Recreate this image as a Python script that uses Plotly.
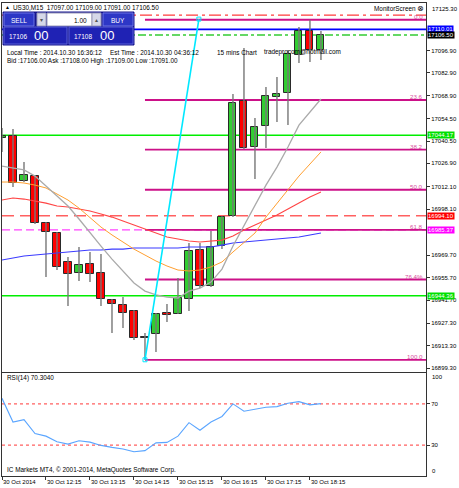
import plotly.graph_objects as go

W, H = 459, 488

# ---------------- data ----------------
times = ["11:15", "11:30", "11:45", "12:00", "12:15", "12:30", "12:45", "13:00", "13:15", "13:30",
         "13:45", "14:00", "14:15", "14:30", "14:45", "15:00", "15:15", "15:30", "15:45", "16:00",
         "16:15", "16:30", "16:45", "17:00", "17:15", "17:30", "17:45", "18:00", "18:15", "18:30"]

opens = [17042.5, 17043.7, 17015.7, 17018.8, 16989.6, 16983.4, 16965.4, 16958.5, 16964.1, 16958.5,
         16941.7, 16938.6, 16934.9, 16918.7, 16920.6, 16933.7, 16933.0, 16942.4, 16972.8, 16950.4,
         16975.3, 16993.9, 17065.5, 17036.9, 17049.9, 17067.9, 17070.4, 17094.1, 17109.0, 17097.0]
highs = [17048.7, 17048.0, 17027.5, 17019.5, 16990.2, 16984.0, 16968.5, 16974.7, 16971.6, 16970.3,
         16942.4, 16943.6, 16935.5, 16921.2, 16933.7, 16939.2, 16955.4, 16977.2, 16977.2, 16984.6,
         16993.9, 17069.8, 17098.4, 17054.9, 17074.2, 17080.4, 17097.2, 17111.5, 17116.0, 17109.0]
lows = [17033.8, 17012.0, 17015.1, 16989.0, 16956.0, 16960.4, 16938.0, 16953.5, 16952.9, 16938.0,
        16921.2, 16924.3, 16916.9, 16904.6, 16909.4, 16928.1, 16933.0, 16934.9, 16949.2, 16949.8,
        16973.4, 16993.3, 17035.6, 17017.0, 17036.2, 17052.4, 17050.5, 17089.1, 17089.7, 17091.0]
closes = [17043.5, 17014.5, 17019.5, 16989.6, 16984.0, 16962.3, 16957.9, 16963.5, 16957.9, 16942.4,
          16939.2, 16933.7, 16918.1, 16918.4, 16933.0, 16932.4, 16943.0, 16972.2, 16950.4, 16974.7,
          16993.3, 17064.2, 17036.2, 17049.3, 17068.6, 17069.8, 17094.7, 17109.0, 17097.2, 17106.5]

ma_gray = [17025.0, 17023.8, 17022.6, 17018.8, 17012.6, 17007.0, 17000.2, 16992.1, 16983.4, 16975.3,
           16967.2, 16959.8, 16952.3, 16947.3, 16944.9, 16943.6, 16943.0, 16947.3, 16949.2, 16952.9,
           16961.0, 16975.3, 16987.7, 17000.2, 17013.2, 17024.4, 17036.9, 17050.5, 17058.6, 17066.7]
ma_orange = [17015.1, 17015.1, 17014.5, 17013.2, 17011.4, 17007.6, 17003.9, 16998.9, 16992.7, 16987.1,
             16982.2, 16977.8, 16973.4, 16969.7, 16966.0, 16962.9, 16960.4, 16959.8, 16960.4, 16962.3,
             16965.4, 16971.6, 16977.2, 16983.4, 16993.3, 17002.0, 17010.1, 17018.8, 17026.3, 17033.8]
ma_red = [17003.9, 17005.2, 17004.5, 17003.3, 17002.0, 17000.2, 16999.6, 16998.3, 16997.1, 16995.2,
          16993.3, 16990.9, 16988.4, 16985.9, 16983.4, 16980.9, 16979.7, 16978.4, 16977.8, 16978.4,
          16979.0, 16981.5, 16985.3, 16988.4, 16991.5, 16994.6, 16998.3, 17002.0, 17005.8, 17008.9]
ma_blue = [16966.6, 16967.9, 16969.1, 16969.7, 16970.3, 16971.0, 16971.6, 16972.2, 16972.8, 16972.8,
           16973.4, 16973.4, 16974.1, 16974.1, 16974.1, 16974.1, 16974.1, 16974.7, 16974.7, 16974.7,
           16975.9, 16977.2, 16977.8, 16978.4, 16979.0, 16979.7, 16980.3, 16980.9, 16982.2, 16983.4]

rsi = [75.4, 52.4, 54.7, 41.2, 38.7, 33.2, 31.0, 34.2, 32.9, 29.7,
       27.8, 26.2, 23.6, 24.6, 32.2, 32.6, 38.7, 51.8, 44.4, 52.4,
       57.8, 70.0, 62.9, 64.6, 66.8, 67.4, 70.6, 72.2, 69.1, 70.3]

price_ticks = [17096.90, 17082.90, 17068.90, 17054.50, 17040.50, 17026.90, 17012.10,
               16998.10, 16969.70, 16955.70, 16941.70, 16927.30, 16913.30, 16899.30]
top_tick = 17125.30

x_tick_idx = [0, 4, 8, 12, 16, 20, 24, 28]
x_tick_text = ["30 Oct 2014", "30 Oct 12:15", "30 Oct 13:15", "30 Oct 14:15",
               "30 Oct 15:15", "30 Oct 16:15", "30 Oct 17:15", "30 Oct 18:15"]

fib_high, fib_low = 17116.0, 16904.6
fib_levels = [0.0, 23.6, 38.2, 50.0, 61.8, 76.4, 100.0]
fib_labels = ["0.0", "23.6", "38.2", "50.0", "61.8", "76.4%", "100.0"]
fib_start = 13
trend_x = [13, 17.9]
trend_y = [16904.6, 17116.4]

line_top_red = 17118.9
line_blue = 17110.01
line_bid = 17106.50
line_green_hi = 17044.17
line_green_lo = 16944.36
line_red_dash = 16994.10
line_magenta = 16985.37

# ---------------- helpers ----------------
def X(px):
    return px / W

def Y(py):
    return 1 - py / H

FONT = "Liberation Sans"
idx = list(range(len(times)))
x_max = 38.55

fig = go.Figure()

# wicks
wx, wy = [], []
for i in idx:
    wx += [i, i, None]
    wy += [lows[i], highs[i], None]
fig.add_trace(go.Scatter(x=wx, y=wy, mode="lines", line=dict(color="#777777", width=1.4),
                         hoverinfo="skip", showlegend=False, xaxis="x", yaxis="y"))

# bodies
base = [min(o, c) for o, c in zip(opens, closes)]
height = [max(abs(c - o), 0.35) for o, c in zip(opens, closes)]
cols = ["#32cd32" if c >= o else "#ff0000" for o, c in zip(opens, closes)]
fig.add_trace(go.Bar(x=idx, y=height, base=base, width=0.64,
                     marker=dict(color=cols, line=dict(color="#2a2a2a", width=1)),
                     showlegend=False, xaxis="x", yaxis="y"))

# moving averages
for vals, col, wd in [(ma_blue, "#3b3bff", 1.1), (ma_red, "#ff4545", 1.1),
                      (ma_orange, "#ff9f30", 1.0), (ma_gray, "#aaaaaa", 1.3)]:
    fig.add_trace(go.Scatter(x=idx, y=vals, mode="lines", line=dict(color=col, width=wd),
                             showlegend=False, xaxis="x", yaxis="y"))

# cyan trend line of fibo
fig.add_trace(go.Scatter(x=trend_x, y=trend_y, mode="lines+markers",
                         line=dict(color="#00e8ff", width=1.6),
                         marker=dict(symbol="square-open", size=4, color="#00e8ff"),
                         showlegend=False, xaxis="x", yaxis="y"))

# RSI
fig.add_trace(go.Scatter(x=idx, y=rsi, mode="lines", line=dict(color="#5aa5ff", width=1.1),
                         showlegend=False, xaxis="x2", yaxis="y2"))

shapes = []
def hline(y, color, width, dash="solid", x0=0, xref="x", yref="y"):
    shapes.append(dict(type="line", xref=xref, yref=yref, x0=x0, x1=x_max + 1, y0=y, y1=y,
                       line=dict(color=color, width=width, dash=dash), layer="below"))

hline(line_top_red, "#ff3b3b", 1.2, "12px,4px,3px,4px")
hline(line_blue, "#0000ff", 1.6)
hline(line_bid, "#33cc33", 1.4, "8px,3px,3px,3px")
hline(line_green_hi, "#00ee00", 1.5)
hline(line_green_lo, "#00ee00", 1.5)
hline(line_red_dash, "#ff6060", 1.5, "12px,6px")
hline(line_magenta, "#ff44ff", 1.2, "8px,4px")
fib_prices = [fib_high - lv / 100.0 * (fib_high - fib_low) for lv in fib_levels]
for p in fib_prices:
    hline(p, "#cc1188", 1.8, x0=fib_start)

# RSI levels
for lv in [70, 30]:
    shapes.append(dict(type="line", xref="x2", yref="y2", x0=0, x1=x_max + 1, y0=lv, y1=lv,
                       line=dict(color="#ff6060", width=1.2, dash="dot"), layer="below"))

# one-click trading panel
def rect(x0, y0, x1, y1, fill, border=None):
    shapes.append(dict(type="rect", xref="paper", yref="paper", x0=X(x0), x1=X(x1), y0=Y(y1), y1=Y(y0),
                       fillcolor=fill, line=dict(color=border or fill, width=1), layer="above"))

rect(3, 12, 134, 45, "#16168f")
rect(4, 13, 34, 26, "#2d37c6", "#6d74e6")
rect(37, 13, 46, 26, "#d6d8e8", "#9a9ab8")
rect(47, 13, 92, 26, "#ffffff", "#9a9ab8")
rect(92, 13, 101, 26, "#d6d8e8", "#9a9ab8")
rect(103, 13, 133, 26, "#2d37c6", "#6d74e6")
rect(4, 27, 67, 44, "#1f22b4", "#5a60d8")
rect(69, 27, 133, 44, "#1f22b4", "#5a60d8")

ann = []
def text(px, py, s, size=6.4, color="black", anchor="left", family=FONT, vanchor="middle"):
    ann.append(dict(xref="paper", yref="paper", x=X(px), y=Y(py), text=s, showarrow=False,
                    xanchor=anchor, yanchor=vanchor, font=dict(family=family, size=size, color=color)))

text(3, 7, "▲", size=5)
text(11, 7, "US30,M15  17097.00 17109.00 17091.00 17106.50")
text(19, 20, "SELL", size=6.5, color="white", anchor="center")
text(41.5, 19.5, "▾", size=6, color="#555555", anchor="center")
text(89, 20, "1.00", size=6.5, anchor="right")
text(96.5, 19.5, "▴", size=6, color="#555555", anchor="center")
text(118, 20, "BUY", size=6.5, color="white", anchor="center")
text(7, 37, "17106", size=6.5, color="white")
text(32, 35.5, "00", size=13, color="white")
text(72, 37, "17108", size=6.5, color="white")
text(98, 35.5, "00", size=13, color="white")
text(5, 52, "Local Time : 2014.10.30 16:36:12")
text(108, 52, "Est Time : 2014.10.30 04:36:12")
text(215, 52, "15 mins Chart")
text(262, 52, "tradeprocom@hotmail.com")
text(5, 61, "Bid :17106.00 Ask :17108.00 High :17109.00 Low :17091.00")
text(372, 8, "MonitorScreen")
text(420, 8, "⊗", size=8, anchor="center", family="DejaVu Sans")
text(5, 378, "RSI(14) 70.3040")
text(5, 470, "IC Markets MT4, © 2001-2014, MetaQuotes Software Corp.")
text(430, 9, "%.2f" % top_tick, size=6)
text(430, 377, "100", size=6)
text(430, 471, "0", size=6)

# fib level labels
for p, lab in zip(fib_prices, fib_labels):
    ann.append(dict(xref="x domain", yref="y", x=0.998, y=p, text=lab, showarrow=False,
                    xanchor="right", yanchor="bottom", yshift=-2,
                    font=dict(family=FONT, size=6.2, color="#d84c9c")))

# price labels on axis
def plabel(p, bg, fg="white"):
    ann.append(dict(xref="paper", yref="y", x=X(427), y=p, text="%.2f" % p, showarrow=False,
                    xanchor="left", yanchor="middle", bgcolor=bg, borderpad=0,
                    font=dict(family=FONT, size=6, color=fg)))

plabel(line_blue, "#0000ff")
plabel(line_bid, "#000000")
plabel(line_green_hi, "#00e000")
plabel(line_red_dash, "#ff0000")
plabel(line_magenta, "#ff00ff")
plabel(line_green_lo, "#00e000")

dom_x = [X(2), X(426)]
axis_common = dict(showgrid=False, zeroline=False, showline=True, linecolor="#333333",
                   linewidth=1, mirror=True, automargin=False, tickcolor="#333333",
                   tickfont=dict(family=FONT, size=6, color="black"))
fig.update_layout(
    width=W, height=H, margin=dict(l=0, r=0, t=0, b=0, autoexpand=False),
    paper_bgcolor="white", plot_bgcolor="white",
    bargap=0, barmode="overlay",
    shapes=shapes, annotations=ann,
    xaxis=dict(domain=dom_x, range=[0, x_max], anchor="y", showticklabels=False, ticks="",
               **axis_common),
    yaxis=dict(domain=[Y(372), Y(3)], range=[16897.0, 17126.4], side="right", anchor="x",
               tickvals=price_ticks, ticktext=["%.2f" % v for v in price_ticks],
               ticks="outside", ticklen=3, **axis_common),
    xaxis2=dict(domain=dom_x, range=[0, x_max], anchor="y2",
                tickvals=x_tick_idx, ticktext=x_tick_text, ticks="outside", ticklen=3,
                tickangle=0, ticklabelposition="outside right", **axis_common),
    yaxis2=dict(domain=[Y(476), Y(373)], range=[0, 100], side="right", anchor="x2",
                tickvals=[70, 30], ticktext=["70", "30"], ticks="outside", ticklen=3,
                **axis_common),
)

fig.write_html("out.html", config={"displayModeBar": False},
               post_script="document.body.style.margin='0';document.body.style.overflow='hidden';")
